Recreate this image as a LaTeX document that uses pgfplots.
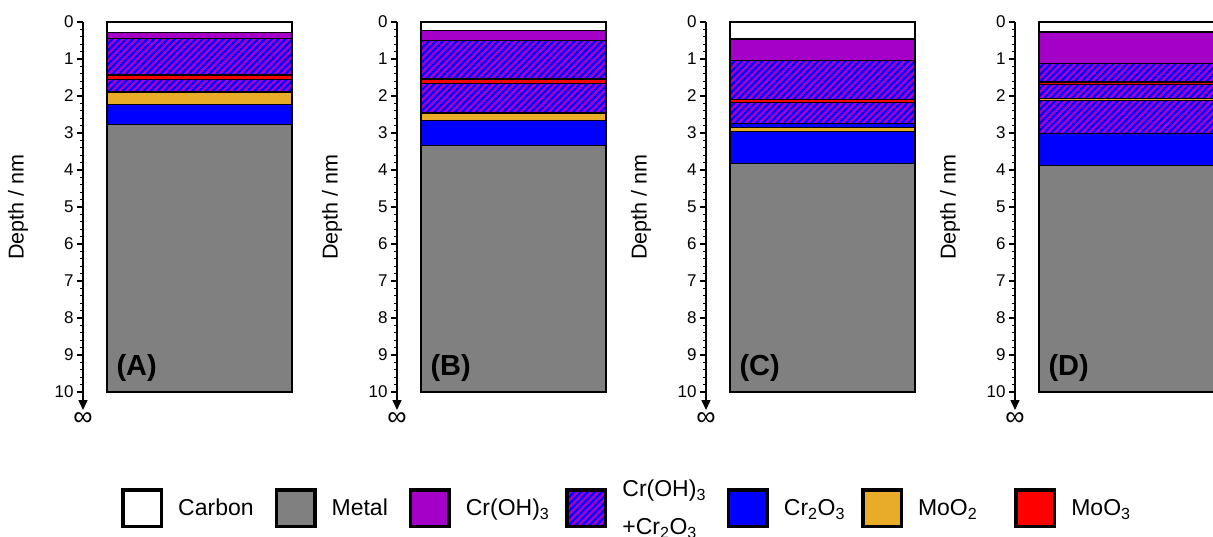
\documentclass[border=0pt]{standalone}
\usepackage{pgfplots}
\pgfplotsset{compat=1.18}
\usepackage{fontspec}
\setmainfont{Liberation Sans}
\usetikzlibrary{patterns.meta,arrows.meta}

\definecolor{cohc}{RGB}{165,0,200}
\definecolor{mootwo}{RGB}{232,172,40}
\definecolor{metc}{RGB}{128,128,128}

\tikzset{
  lyr/.style={draw=black, line width=1.2pt},
  carbon/.style={fill=white, lyr},
  metal/.style={fill=metc, lyr},
  coh/.style={fill=cohc, lyr},
  mix/.style={preaction={fill=blue}, pattern={Lines[angle=45,distance=4.9pt,line width=2.45pt]}, pattern color=cohc, lyr},
  cro/.style={fill=blue, lyr},
  moo2/.style={fill=mootwo, lyr},
  moo3/.style={fill=red, lyr},
  plabel/.style={anchor=west, font=\fontsize{29}{29}\selectfont\bfseries},
  ylab/.style={xshift=-65pt, rotate=90, font=\fontsize{21.5}{21.5}\selectfont},
  inf/.style={yshift=-27pt, font=\fontsize{27}{27}\selectfont},
}

\pgfplotsset{
  panel/.style={
    scale only axis, width=220pt, height=370pt,
    xmin=0, xmax=220, ymin=0, ymax=10, y dir=reverse,
    clip=false, axis x line=none, axis y line*=left,
    ytick={0,1,2,3,4,5,6,7,8,9,10},
    yticklabels={0,1,2,3,4,5,6,7,8,9,10},
    minor y tick num=4, tick align=outside,
    major tick length=6pt, minor tick length=3pt,
    tick style={line width=1.2pt, black},
    y axis line style={line width=1.4pt, -{Triangle[width=9pt,length=10pt]}, shorten >=-18pt},
    yticklabel style={font=\fontsize{17}{17}\selectfont},
    ybar stacked, bar width=185pt,
    anchor=north west,
  },
}

\begin{document}
\begin{tikzpicture}
% Panel A
\begin{axis}[panel, at={(83pt,-22pt)}, name=pA]
  \addplot[carbon] coordinates {(116.5,0.28)};
  \addplot[coh]    coordinates {(116.5,0.165)};
  \addplot[mix]    coordinates {(116.5,0.985)};
  \addplot[moo3]   coordinates {(116.5,0.13)};
  \addplot[mix]    coordinates {(116.5,0.33)};
  \addplot[moo2]   coordinates {(116.5,0.35)};
  \addplot[cro]    coordinates {(116.5,0.53)};
  \addplot[metal]  coordinates {(116.5,7.23)};
  \node[ylab] at (axis cs:0,5) {Depth / nm};
  \node[inf] at (axis cs:0,10) {∞};
\end{axis}
\node[plabel] at ([xshift=30pt,yshift=24pt]pA.south west) {(A)};
% Panel B
\begin{axis}[panel, at={(397pt,-22pt)}, name=pB]
  \addplot[carbon] coordinates {(116.5,0.22)};
  \addplot[coh]    coordinates {(116.5,0.29)};
  \addplot[mix]    coordinates {(116.5,1.03)};
  \addplot[moo3]   coordinates {(116.5,0.13)};
  \addplot[mix]    coordinates {(116.5,0.79)};
  \addplot[moo2]   coordinates {(116.5,0.21)};
  \addplot[cro]    coordinates {(116.5,0.67)};
  \addplot[metal]  coordinates {(116.5,6.66)};
  \node[ylab] at (axis cs:0,5) {Depth / nm};
  \node[inf] at (axis cs:0,10) {∞};
\end{axis}
\node[plabel] at ([xshift=30pt,yshift=24pt]pB.south west) {(B)};
% Panel C
\begin{axis}[panel, at={(706pt,-22pt)}, name=pC]
  \addplot[carbon] coordinates {(116.5,0.46)};
  \addplot[coh]    coordinates {(116.5,0.57)};
  \addplot[mix]    coordinates {(116.5,1.06)};
  \addplot[moo3]   coordinates {(116.5,0.08)};
  \addplot[mix]    coordinates {(116.5,0.575)};
  \addplot[cro]    coordinates {(116.5,0.115)};
  \addplot[moo2]   coordinates {(116.5,0.09)};
  \addplot[cro]    coordinates {(116.5,0.88)};
  \addplot[metal]  coordinates {(116.5,6.17)};
  \node[ylab] at (axis cs:0,5) {Depth / nm};
  \node[inf] at (axis cs:0,10) {∞};
\end{axis}
\node[plabel] at ([xshift=30pt,yshift=24pt]pC.south west) {(C)};
% Panel D
\begin{axis}[panel, at={(1015pt,-22pt)}, name=pD]
  \addplot[carbon] coordinates {(116.5,0.27)};
  \addplot[coh]    coordinates {(116.5,0.85)};
  \addplot[mix]    coordinates {(116.5,0.50)};
  \addplot[moo3]   coordinates {(116.5,0.07)};
  \addplot[mix]    coordinates {(116.5,0.375)};
  \addplot[moo2]   coordinates {(116.5,0.065)};
  \addplot[mix]    coordinates {(116.5,0.88)};
  \addplot[cro]    coordinates {(116.5,0.86)};
  \addplot[metal]  coordinates {(116.5,6.13)};
  \node[ylab] at (axis cs:0,5) {Depth / nm};
  \node[inf] at (axis cs:0,10) {∞};
\end{axis}
\node[plabel] at ([xshift=30pt,yshift=24pt]pD.south west) {(D)};
% Legend
\begin{axis}[hide axis, scale only axis, width=10pt, height=10pt,
  xmin=0, xmax=1, ymin=0, ymax=1,
  at={(121pt,-508pt)}, anchor=west,
  legend columns=7,
  legend image code/.code={\draw[#1, line width=3.5pt] (1.75pt,-18.25pt) rectangle (40.25pt,18.25pt);},
  legend style={at={(0,0.5)}, anchor=west, draw=none, fill=none, inner sep=0pt,
    font=\fontsize{23}{28}\selectfont,
    cells={anchor=west},
    nodes={inner sep=0pt},
    /tikz/every odd column/.style={column sep=15pt},
    /tikz/every even column/.style={column sep=21pt}},
]
  \addlegendimage{carbon}\addlegendentry{Carbon}
  \addlegendimage{metal}\addlegendentry{Metal}
  \addlegendimage{coh}\addlegendentry{Cr(OH)\textsubscript{3}\hspace*{-5pt}}
  \addlegendimage{mix}\addlegendentry{\raisebox{21pt}{\begin{tabular}{@{}l@{}}Cr(OH)\textsubscript{3}\\[10pt]+Cr\textsubscript{2}O\textsubscript{3}\end{tabular}}}
  \addlegendimage{cro}\addlegendentry{Cr\textsubscript{2}O\textsubscript{3}\hspace*{-5pt}}
  \addlegendimage{moo2}\addlegendentry{MoO\textsubscript{2}\hspace*{16pt}}
  \addlegendimage{moo3}\addlegendentry{MoO\textsubscript{3}}
\end{axis}
\pgfresetboundingbox
\path (0pt,0pt) rectangle (1213pt,-536pt);
\end{tikzpicture}
\end{document}
